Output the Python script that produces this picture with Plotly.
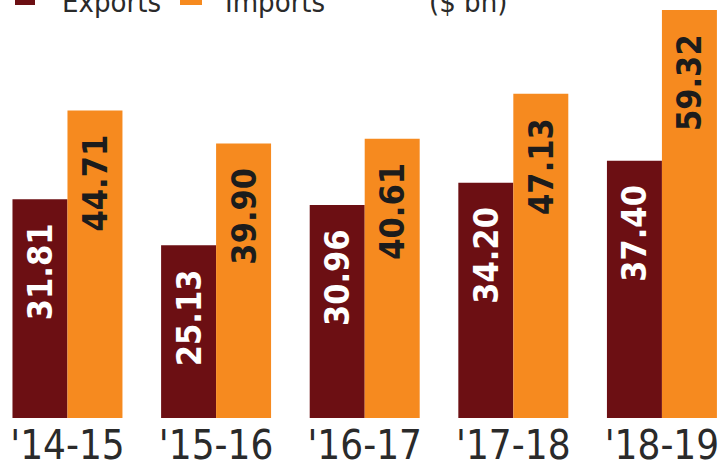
import plotly.graph_objects as go

years = ["'14-15", "'15-16", "'16-17", "'17-18", "'18-19"]
exports = [31.81, 25.13, 30.96, 34.20, 37.40]
imports = [44.71, 39.90, 40.61, 47.13, 59.32]

MAROON = "#6C0F13"
ORANGE = "#F68A1F"
W, H = 719, 468
PLOT_H = 420

NB = "\u00a0"  # keeps labels a little way below the bar tops

fig = go.Figure()
fig.add_trace(go.Bar(
    x=years, y=exports, name="Exports", marker=dict(color=MAROON, line_width=0),
    texttemplate="%{y:.2f}" + NB * 2, textposition="inside", insidetextanchor="end",
    textangle=-90, constraintext="none",
    insidetextfont=dict(family="DejaVu Sans Condensed", size=34, color="white", weight="bold"),
))
fig.add_trace(go.Bar(
    x=years, y=imports, name="Imports", marker=dict(color=ORANGE, line_width=0),
    texttemplate="%{y:.2f}" + NB * 2, textposition="inside", insidetextanchor="end",
    textangle=-90, constraintext="none",
    insidetextfont=dict(family="DejaVu Sans Condensed", size=34, color="#1c1c1c", weight="bold"),
))

# legend row along the top edge
def px_x(p):
    return p / W

def px_y(p):
    return 1 - p / PLOT_H

legend_items = [(15, 35, MAROON, "Exports", 60), (180, 202, ORANGE, "Imports", 223)]
for x0, x1, col, label, tx in legend_items:
    fig.add_shape(type="rect", xref="paper", yref="paper",
                  x0=px_x(x0), x1=px_x(x1), y0=px_y(5), y1=px_y(-15),
                  fillcolor=col, line_width=0)
    fig.add_annotation(text=label, xref="paper", yref="paper", x=px_x(tx), y=px_y(21),
                       xanchor="left", yanchor="bottom", showarrow=False,
                       font=dict(family="DejaVu Sans Condensed", size=29, color="#2a2a2a"))
fig.add_annotation(text="($ bn)", xref="paper", yref="paper", x=px_x(427), y=px_y(21),
                   xanchor="left", yanchor="bottom", showarrow=False,
                   font=dict(family="DejaVu Sans Condensed", size=29, color="#2a2a2a"))

fig.update_layout(
    width=W, height=H, barmode="group", bargap=0.26, bargroupgap=0,
    margin=dict(l=0, r=0, t=0, b=H - PLOT_H),
    paper_bgcolor="white", plot_bgcolor="white", showlegend=False,
    xaxis=dict(range=[-0.454, 4.384], showgrid=False, zeroline=False, showline=False,
               ticks="", tickfont=dict(family="DejaVu Sans Condensed", size=40, color="#2a2a2a")),
    yaxis=dict(range=[0, 60.78], visible=False, showgrid=False, zeroline=False),
)

fig.write_html("out.html")
